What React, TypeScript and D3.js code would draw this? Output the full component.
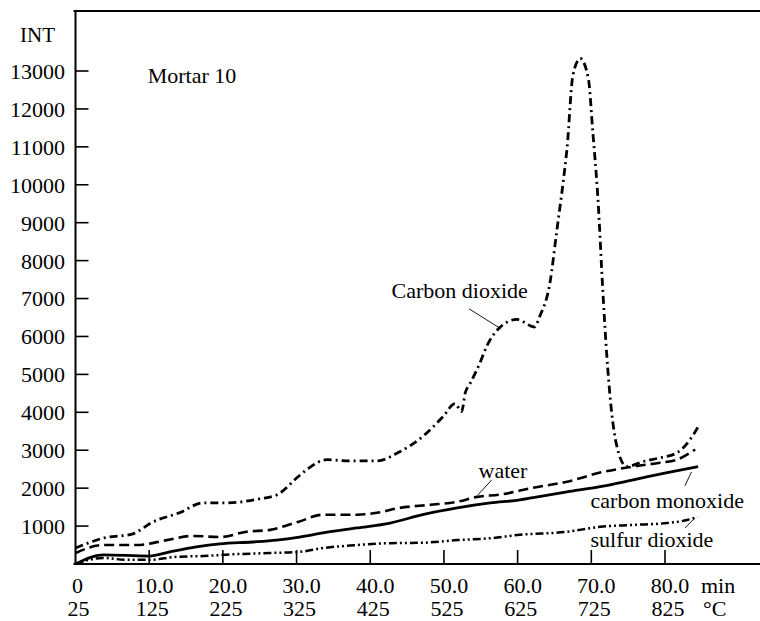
import React from "react";
import * as d3 from "d3";

// ---- data (time in min, intensity INT) ----
const co2Time = [0, 3.9, 7.7, 10.5, 14.1, 17.3, 20.5, 25, 27.3, 30.2, 31.4, 34.1, 37.2, 40.9, 44, 47.1, 49.9, 51.5, 52.4, 52.9, 53.5, 54.9, 55.8, 57.6, 59.9, 62.3, 63, 64.4, 65.3, 66.2, 66.7, 67.5, 68.5, 69.6, 70.2, 70.9, 71.6, 72.1, 72.6, 73.7, 74.8, 77, 79.3, 81.6, 83.4, 84.5];
const co2Values = [420, 690, 790, 1110, 1350, 1610, 1610, 1720, 1820, 2300, 2490, 2750, 2720, 2720, 2960, 3360, 3890, 4230, 4020, 4520, 4740, 5310, 5740, 6240, 6450, 6250, 6530, 7430, 8760, 10100, 10950, 12880, 13330, 12800, 11400, 9630, 7070, 5500, 4300, 2930, 2570, 2700, 2800, 2930, 3280, 3620];

const waterTime = [0, 3.7, 8.3, 12.4, 15.9, 19.6, 23.2, 26.4, 30.2, 33.6, 38.2, 40.9, 44, 48.1, 51.8, 54.5, 57.6, 62.1, 66.7, 71.2, 75.7, 79.3, 81.6, 84.1];
const waterValues = [290, 500, 500, 630, 740, 710, 850, 900, 1110, 1300, 1300, 1350, 1480, 1560, 1640, 1770, 1830, 2010, 2170, 2410, 2570, 2670, 2750, 3020];

const coTime = [0, 3.7, 10, 12.8, 16.4, 19.6, 24, 27.3, 30.4, 33.6, 38.2, 42.7, 47.1, 51.8, 56.3, 60.3, 62.1, 66.7, 71.2, 75.7, 80.3, 84.5];
const coValues = [0, 240, 210, 320, 450, 530, 580, 630, 710, 820, 950, 1080, 1300, 1480, 1610, 1690, 1750, 1900, 2040, 2220, 2410, 2570];

const so2Time = [0, 3.7, 6.9, 10, 13.7, 17.3, 21.9, 26.4, 30.4, 33.6, 38.2, 42.7, 47.1, 51.8, 56.3, 60.3, 66.7, 71.2, 75.7, 80.3, 83, 84.4];
const so2Values = [0, 160, 110, 110, 190, 210, 260, 290, 320, 420, 500, 550, 560, 630, 680, 770, 850, 980, 1030, 1080, 1160, 1240];

const yTicks = [1000, 2000, 3000, 4000, 5000, 6000, 7000, 8000, 9000, 10000, 11000, 12000, 13000];
const xTicks = [0, 10, 20, 30, 40, 50, 60, 70, 80];
const xTickLabels = ["0", "10.0", "20.0", "30.0", "40.0", "50.0", "60.0", "70.0", "80.0"];
const tempLabels = ["25", "125", "225", "325", "425", "525", "625", "725", "825"];

// annotation labels: [text, t, v] and leader lines [t1, v1, t2, v2]
const labelTexts = ["Carbon dioxide", "water", "carbon monoxide", "sulfur dioxide", "Mortar 10"];
const labelT = [42.9, 54.7, 69.9, 69.9, 9.8];
const labelV = [7020, 2270, 1480, 450, 12690];
const leaderFrom = [[53.4, 6730], [56.5, 2220], [82.7, 2060], [82.7, 950]];
const leaderTo = [[57.5, 6230], [54.6, 1820], [83.6, 2430], [84.05, 1210]];

const W = 760;
const H = 621;
const FONT = "Liberation Serif, Times New Roman, Times, DejaVu Serif, serif";
const txt = { fontFamily: FONT, fontSize: 22, fill: "#000" } as React.CSSProperties;

export default function App() {
  const x = d3.scaleLinear().domain([0, 80]).range([75.5, 665]);
  const y = d3.scaleLinear().domain([0, 13000]).range([564, 71]);
  const axisX = 75.5;
  const axisY = 564;
  const topY = 11;

  const mk = (ts: number[], vs: number[]) =>
    d3
      .line<number>()
      .x((_, i) => x(ts[i]))
      .y((v) => y(v))
      .curve(d3.curveMonotoneX)(vs) || "";

  const series = [
    { d: mk(co2Time, co2Values), dash: "8,4,2,4", w: 2.8 },
    { d: mk(waterTime, waterValues), dash: "10,5", w: 2.6 },
    { d: mk(coTime, coValues), dash: "none", w: 2.8 },
    { d: mk(so2Time, so2Values), dash: "8,3,2,3,2,3", w: 2.5 },
  ];

  return (
    <svg
      width={W}
      height={H}
      viewBox={`0 0 ${W} ${H}`}
      style={{ position: "absolute", left: 0, top: 0, background: "#fff" }}
    >
      <rect x={0} y={0} width={W} height={H} fill="#fff" />
      {/* frame */}
      <line x1={axisX - 2} x2={W} y1={topY} y2={topY} stroke="#000" strokeWidth={1.8} />
      <line x1={axisX} x2={axisX} y1={topY} y2={axisY} stroke="#000" strokeWidth={2} />
      <line x1={axisX - 2} x2={W} y1={axisY} y2={axisY} stroke="#000" strokeWidth={2} />

      {/* y ticks */}
      {yTicks.map((t) => (
        <g key={t}>
          <line x1={axisX} x2={axisX + 13} y1={y(t)} y2={y(t)} stroke="#000" strokeWidth={1.6} />
          <text x={65} y={y(t)} dy="0.36em" textAnchor="end" style={txt}>
            {t}
          </text>
        </g>
      ))}
      <text x={55} y={42} textAnchor="end" style={{ ...txt, fontSize: 21 }}>INT</text>

      {/* x ticks */}
      {xTicks.map((t, i) => (
        <g key={t}>
          {i > 0 && (
            <line x1={x(t)} x2={x(t)} y1={axisY} y2={axisY - 14} stroke="#000" strokeWidth={1.6} />
          )}
          <text x={x(t) + (i === 0 ? 2 : 5)} y={593} textAnchor="middle" style={txt}>
            {xTickLabels[i]}
          </text>
          <text x={x(t) + 3} y={616} textAnchor="middle" style={txt}>
            {tempLabels[i]}
          </text>
        </g>
      ))}
      <text x={701} y={593} style={txt}>min</text>
      <text x={703} y={616} style={txt}>°C</text>

      {/* series */}
      {series.map((s, i) => (
        <path
          key={i}
          d={s.d}
          fill="none"
          stroke="#000"
          strokeWidth={s.w}
          strokeDasharray={s.dash}
          strokeLinejoin="round"
        />
      ))}

      {/* leaders */}
      {leaderFrom.map((p, i) => (
        <line
          key={i}
          x1={x(p[0])}
          y1={y(p[1])}
          x2={x(leaderTo[i][0])}
          y2={y(leaderTo[i][1])}
          stroke="#000"
          strokeWidth={0.9}
        />
      ))}

      {/* labels */}
      {labelTexts.map((t, i) => (
        <text key={t} x={x(labelT[i])} y={y(labelV[i])} style={txt}>
          {t}
        </text>
      ))}
    </svg>
  );
}
